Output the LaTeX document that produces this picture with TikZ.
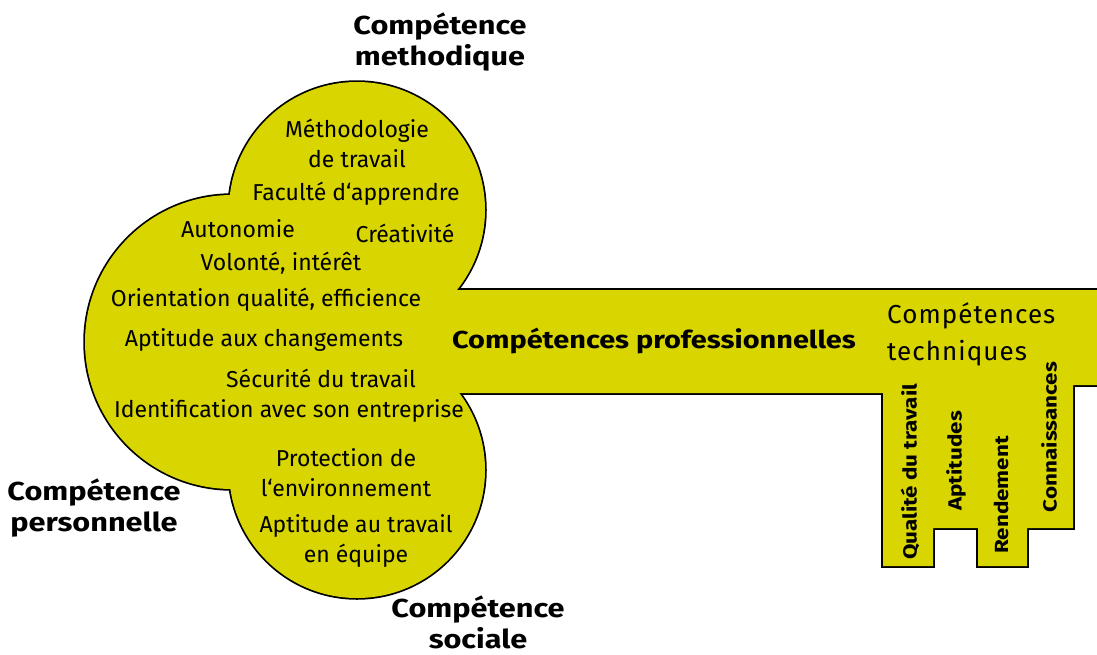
\documentclass[tikz,border=0pt]{standalone}
\usepackage{fontspec}
\setmainfont{Fira Sans}
\newfontfamily\headfont{Fira Sans}[FakeStretch=1.18]
\newfontfamily\techfont{Fira Sans}[LetterSpace=4]
\definecolor{keyyellow}{RGB}{216,213,0}
\begin{document}
\begin{tikzpicture}[x=1pt,y=-1pt,
  item/.style={font=\fontsize{23}{26}\selectfont, inner sep=0pt, align=center},
  head/.style={font=\headfont\fontsize{26}{31}\selectfont\bfseries, inner sep=0pt, align=center},
  tooth/.style={font=\headfont\fontsize{19}{22}\selectfont\bfseries, inner sep=0pt, rotate=90},
  outline/.style={draw=black, line width=3.5pt},
  keyfill/.style={fill=keyyellow}]
\useasboundingbox (0,0) rectangle (1097,654);
\clip (0,0) rectangle (1097,654);
% key outline (drawn wide, then covered by the fill)
\path[outline] (357,210) circle[radius=128pt];
\path[outline] (232,342) circle[radius=147pt];
\path[outline] (357,470) circle[radius=128pt];
\path[outline] (350,290) -- (1110,290) -- (1110,385) -- (1073,385) -- (1073,528) -- (1027,528) -- (1027,566) -- (978,566) -- (978,528) -- (933,528) -- (933,566) -- (883,566) -- (883,393) -- (350,393) -- cycle;
% key fill
\path[keyfill] (357,210) circle[radius=128pt];
\path[keyfill] (232,342) circle[radius=147pt];
\path[keyfill] (357,470) circle[radius=128pt];
\path[keyfill] (350,290) -- (1110,290) -- (1110,385) -- (1073,385) -- (1073,528) -- (1027,528) -- (1027,566) -- (978,566) -- (978,528) -- (933,528) -- (933,566) -- (883,566) -- (883,393) -- (350,393) -- cycle;
% headings
\node[head] (hmeth) at (440,42) {Compétence\\methodique};
\node[head] (hpers) at (94,508) {Compétence\\personnelle};
\node[head] (hsoc) at (478,622) {Compétence\\sociale};
\node[head, font=\headfont\fontsize{24.5}{30}\selectfont\bfseries] (hprof) at (654,341) {Compétences professionnelles};
% items in the bow
\node[item] (methodo) at (357,143) {Méthodologie\\[4pt]de travail};
\node[item] (faculte) at (356,194) {Faculté d‘apprendre};
\node[item] (autono) at (238,229) {Autonomie};
\node[item] (creat) at (405,233) {Créativité};
\node[item] (volonte) at (281,263) {Volonté, intérêt};
\node[item] (orient) at (266,300) {Orientation qualité, efficience};
\node[item] (aptch) at (264,340) {Aptitude aux changements};
\node[item] (secur) at (321,378) {Sécurité du travail};
\node[item] (ident) at (289,411) {Identification avec son entreprise};
\node[item] (protec) at (346,473) {Protection de\\[4pt]l‘environnement};
\node[item] (equipe) at (356,541) {Aptitude au travail\\[4pt]en équipe};
% technical competences
\node[font=\techfont\fontsize{26}{37}\selectfont, inner sep=0pt, align=left, anchor=north west] (tech) at (887,302) {Compétences\\techniques};
\node[tooth] (qualite) at (910,472) {Qualité du travail};
\node[tooth] (aptitudes) at (956,461) {Aptitudes};
\node[tooth] (rendement) at (1001,495) {Rendement};
\node[tooth] (connais) at (1049,437) {Connaissances};
\end{tikzpicture}
\end{document}
